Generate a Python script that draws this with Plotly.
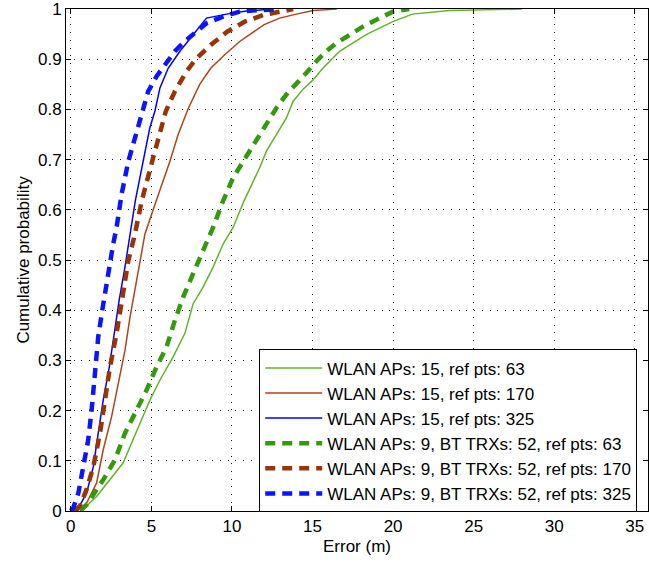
import plotly.graph_objects as go

# ---- data (error in m, cumulative probability) ----
names = [
    "WLAN APs: 15, ref pts: 63",
    "WLAN APs: 15, ref pts: 170",
    "WLAN APs: 15, ref pts: 325",
    "WLAN APs: 9, BT TRXs: 52, ref pts: 63",
    "WLAN APs: 9, BT TRXs: 52, ref pts: 170",
    "WLAN APs: 9, BT TRXs: 52, ref pts: 325",
]

g15_63_err = [0.57, 0.98, 1.6, 2.43, 3.25, 3.5, 4.49, 4.91, 5.53, 6.35, 7.08, 7.59, 8.21, 8.83, 9.45,
              10.07, 10.75, 11.72, 12.14, 12.76, 13.38, 13.79, 14.4, 15.03, 15.64, 16.68, 18.33, 19.98,
              21.2, 23.5, 28.0]
g15_63_cdf = [0, 0.01, 0.029, 0.062, 0.096, 0.115, 0.188, 0.221, 0.261, 0.307, 0.354, 0.413, 0.446, 0.486,
              0.532, 0.565, 0.618, 0.684, 0.717, 0.75, 0.783, 0.816, 0.84, 0.859, 0.882, 0.916, 0.949,
              0.975, 0.99, 0.997, 1.0]

g15_170_err = [0.4, 0.98, 1.6, 2.01, 2.53, 2.94, 3.36, 3.67, 4.05, 4.3, 4.6, 5.3, 6.15, 6.66, 7.3, 8.0,
               8.68, 9.55, 10.5, 12.0, 12.96, 14.0, 15.03, 16.5]
g15_170_cdf = [0, 0.016, 0.056, 0.122, 0.188, 0.254, 0.32, 0.386, 0.453, 0.5, 0.552, 0.618, 0.697, 0.75,
               0.803, 0.85, 0.882, 0.909, 0.936, 0.969, 0.982, 0.99, 0.997, 1.0]

g15_325_err = [0.2, 0.47, 0.98, 1.4, 1.7, 2.01, 2.39, 2.68, 3.0, 3.36, 3.67, 4.0, 4.49, 4.9, 5.22, 5.53,
               6.04, 6.77, 7.59, 8.42, 9.66, 10.9, 12.5]
g15_325_cdf = [0, 0.006, 0.036, 0.089, 0.155, 0.221, 0.287, 0.354, 0.42, 0.486, 0.552, 0.618, 0.697, 0.763,
               0.797, 0.843, 0.882, 0.916, 0.949, 0.982, 0.99, 0.996, 1.0]

bt_63_err = [0.6, 1.08, 1.6, 2.01, 2.74, 3.36, 4.08, 4.7, 5.32, 5.94, 6.46, 6.97, 7.59, 8.21, 8.83, 9.45,
             10.07, 10.59, 11.1, 11.62, 12.14, 12.76, 13.38, 14.0, 14.62, 15.24, 15.85, 16.47, 17.4,
             18.12, 19.16, 19.98, 21.0]
bt_63_cdf = [0, 0.016, 0.043, 0.062, 0.102, 0.155, 0.201, 0.241, 0.287, 0.327, 0.38, 0.426, 0.473, 0.519,
             0.565, 0.618, 0.664, 0.691, 0.717, 0.744, 0.77, 0.803, 0.83, 0.85, 0.873, 0.896, 0.916,
             0.932, 0.952, 0.965, 0.982, 0.995, 1.0]

bt_170_err = [0.2, 0.57, 0.98, 1.4, 1.81, 2.12, 2.43, 2.84, 3.15, 3.57, 3.98, 4.4, 5.11, 5.53, 5.9, 6.46,
              7.18, 7.8, 8.7, 9.7, 10.8, 11.93, 12.96, 13.8]
bt_170_cdf = [0, 0.01, 0.043, 0.089, 0.155, 0.221, 0.287, 0.354, 0.42, 0.499, 0.552, 0.618, 0.704, 0.75,
              0.797, 0.836, 0.876, 0.902, 0.929, 0.955, 0.975, 0.988, 0.995, 1.0]

bt_325_err = [0.0, 0.15, 0.47, 0.77, 1.08, 1.29, 1.5, 1.7, 1.95, 2.22, 2.43, 2.63, 2.84, 3.05, 3.15, 3.57,
              3.98, 4.39, 4.8, 5.32, 5.94, 6.46, 7.08, 7.7, 8.42, 9.45, 10.48, 11.7, 13.0]
bt_325_cdf = [0, 0.006, 0.036, 0.089, 0.142, 0.201, 0.287, 0.347, 0.4, 0.453, 0.499, 0.532, 0.565, 0.611,
              0.631, 0.697, 0.744, 0.797, 0.836, 0.866, 0.893, 0.916, 0.936, 0.952, 0.972, 0.985, 0.995,
              0.998, 1.0]

x_tickvals = [0, 5, 10, 15, 20, 25, 30, 35]
y_tickvals = [0, 0.1, 0.2, 0.3, 0.4, 0.5, 0.6, 0.7, 0.8, 0.9, 1]
y_ticktext = ["0", "0.1", "0.2", "0.3", "0.4", "0.5", "0.6", "0.7", "0.8", "0.9", "1"]

series = [
    (g15_63_err, g15_63_cdf, "#63b32a", 1.5, "solid"),
    (g15_170_err, g15_170_cdf, "#b0431a", 1.5, "solid"),
    (g15_325_err, g15_325_cdf, "#0000ff", 1.5, "solid"),
    (bt_63_err, bt_63_cdf, "#339a0a", 4.5, "10px,7px"),
    (bt_170_err, bt_170_cdf, "#9a3305", 4.5, "10px,7px"),
    (bt_325_err, bt_325_cdf, "#0a14ff", 4.5, "10px,7px"),
]

FONT = "Liberation Sans, Arial, Helvetica, sans-serif"

fig = go.Figure()
for name, (xs, ys, col, w, dash) in zip(names, series):
    fig.add_trace(go.Scatter(x=xs, y=ys, mode="lines", name=name,
                             line=dict(color=col, width=w, dash=dash)))

axis_common = dict(
    showline=True, linecolor="black", linewidth=1, mirror="ticks",
    ticks="inside", ticklen=5, tickcolor="black", tickwidth=1,
    showgrid=True, gridcolor="rgba(0,0,0,0.9)", gridwidth=1, griddash="1px,6.7px",
    zeroline=False, tickfont=dict(family=FONT, size=17, color="black"),
    ticklabeloverflow="allow",
)

fig.update_layout(
    width=649, height=565,
    margin=dict(l=66, r=0, t=7, b=54),
    paper_bgcolor="white", plot_bgcolor="white",
    font=dict(family=FONT, size=17, color="black"),
    showlegend=True,
    legend=dict(x=0.332, y=0.322, xanchor="left", yanchor="top",
                bgcolor="white", bordercolor="black", borderwidth=1,
                font=dict(family=FONT, size=17, color="black"),
                itemwidth=57, tracegroupgap=0),
    xaxis=dict(range=[-0.3, 35.82], tickvals=x_tickvals,
               title=dict(text="Error (m)", standoff=4, font=dict(family=FONT, size=17)),
               **axis_common),
    yaxis=dict(range=[0, 1.0002], tickvals=y_tickvals, ticktext=y_ticktext,
               title=dict(text="Cumulative probability", standoff=4, font=dict(family=FONT, size=17)),
               **axis_common),
)

fig.write_html("out.html")
